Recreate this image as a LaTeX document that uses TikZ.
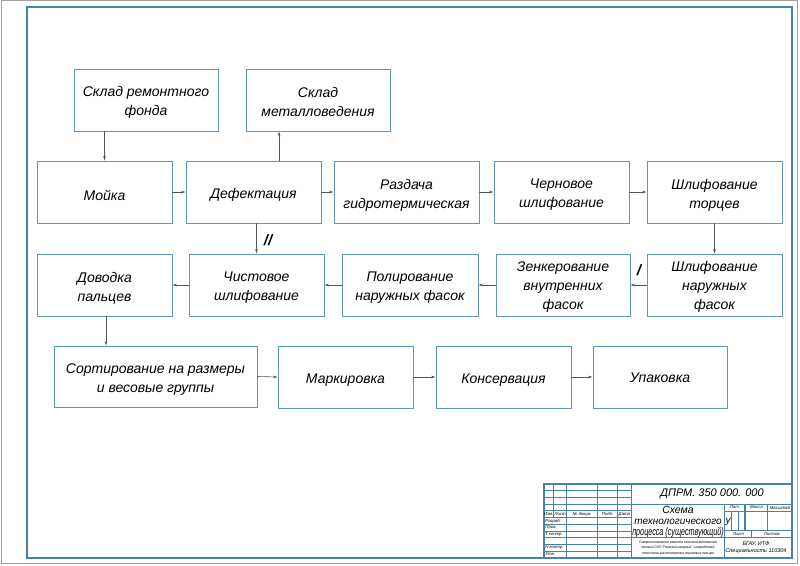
\documentclass[tikz,border=0pt]{standalone}
\usepackage{fontspec}
\setmainfont{Liberation Sans}
\usepackage{graphicx}
\usetikzlibrary{arrows.meta,calc}
\definecolor{frameblue}{RGB}{70,130,170}
\definecolor{boxblue}{RGB}{95,150,190}
\definecolor{arrgray}{RGB}{85,85,85}
\begin{document}
\begin{tikzpicture}[x=1pt,y=-1pt,
  blk/.style={draw=boxblue, line width=0.9pt, inner sep=0pt, minimum height=62pt},
  txt/.style={align=center, inner sep=0pt, yshift=-3pt,
    font=\fontsize{14}{19}\selectfont\itshape},
  arr/.style={draw=arrgray, line width=0.6pt, -{Stealth[length=4.5pt,width=2.6pt]}},
  tb/.style={draw=frameblue, line width=0.6pt},
  tbk/.style={draw=frameblue, line width=1.1pt},
  tiny/.style={font=\fontsize{4.3}{5}\selectfont\itshape, inner sep=0pt},
  slashmark/.style={font=\fontsize{15}{15}\selectfont\bfseries\itshape, inner sep=0pt}
]
\useasboundingbox (0,0) rectangle (800,565);
% page border and frame
\draw[gray!75, line width=1.3pt] (1.8,0.8) rectangle (797.3,563.2);
\draw[frameblue, line width=1.5pt] (27,7) rectangle (792,558);

% boxes
\node[blk, minimum width=144pt, label={[txt, yshift=1pt]center:{Склад ремонтного\\фонда}}] (s1) at (146,100) {};
\node[blk, minimum width=144pt, label={[txt, yshift=1pt]center:{Склад\\металловедения}}] (s2) at (318,100) {};
\node[blk, minimum width=135pt, label={[txt]center:{Мойка}}] (moi) at (104.5,192) {};
\node[blk, minimum width=135pt, label={[txt]center:{Дефектация}}] (def) at (253.5,192) {};
\node[blk, minimum width=145pt, label={[txt]center:{Раздача\\гидротермическая}}] (raz) at (406.5,192) {};
\node[blk, minimum width=135pt, label={[txt]center:{Черновое\\шлифование}}] (che) at (561.5,192) {};
\node[blk, minimum width=135pt, label={[txt]center:{Шлифование\\торцев}}] (tor) at (714.5,192) {};
\node[blk, minimum width=135pt, label={[txt, yshift=1pt]center:{Шлифование\\наружных\\фасок}}] (nar) at (714.5,285) {};
\node[blk, minimum width=134pt, label={[txt, yshift=1pt]center:{Зенкерование\\внутренних\\фасок}}] (zen) at (563,285) {};
\node[blk, minimum width=136pt, label={[txt]center:{Полирование\\наружных фасок}}] (pol) at (410,285) {};
\node[blk, minimum width=135pt, label={[txt]center:{Чистовое\\шлифование}}] (chi) at (256.5,285) {};
\node[blk, minimum width=135pt, label={[txt]center:{Доводка\\пальцев}}] (dov) at (104.5,285) {};
\node[blk, minimum width=203pt, minimum height=61pt, label={[txt]center:{Сортирование на размеры\\и весовые группы}}] (sor) at (155.5,376.5) {};
\node[blk, minimum width=135pt, label={[txt]center:{Маркировка}}] (mar) at (345.5,377) {};
\node[blk, minimum width=135pt, label={[txt]center:{Консервация}}] (kon) at (503.5,377) {};
\node[blk, minimum width=134pt, label={[txt, yshift=2pt]center:{Упаковка}}] (upa) at (660,377) {};

% connectors
\draw[arr] (s1.south -| moi.north) -- (moi.north);
\draw[arr] (moi.east) -- (def.west);
\coordinate (d1) at ([xshift=25.5pt]def.north);
\draw[arr] (d1) -- (d1 |- s2.south);
\draw[arr] (def.east) -- (raz.west);
\draw[arr] (raz.east) -- (che.west);
\draw[arr] (che.east) -- (tor.west);
\draw[arr] (tor.south) -- (nar.north);
\draw[arr] (nar.west) -- (zen.east);
\draw[arr] (zen.west) -- (pol.east);
\draw[arr] (pol.west) -- (chi.east);
\draw[arr] (chi.west) -- (dov.east);
\coordinate (d2) at ([xshift=3pt]def.south);
\draw[arr] (d2) -- (d2 |- chi.north);
\coordinate (d3) at ([xshift=1.5pt]dov.south);
\draw[arr] (d3) -- (d3 |- sor.north);
\draw[arr] (sor.east) -- (mar.west);
\draw[arr] (mar.east) -- (kon.west);
\draw[arr] (kon.east) -- (upa.west);

\node[slashmark] (m2) at (268,240) {//};
\node[slashmark] (m1) at (639,270) {/};

% title block
\draw[tbk] (544,484) rectangle (792,558);
\draw[tbk] (553.4,484) -- (553.4,517.5);
\foreach \xx in {566.8,597.6,617.7,631.1} \draw[tbk] (\xx,484) -- (\xx,558);
\foreach \yy in {490.7,497.4,504.1,524.2,530.9,537.6,544.3,551.0} \draw[tb] (544,\yy) -- (631.1,\yy);
\draw[tbk] (544,510.8) -- (631.1,510.8);
\draw[tbk] (544,517.5) -- (631.1,517.5);
\draw[tbk] (631.1,504.1) -- (792,504.1);
\draw[tbk] (724.9,504.1) -- (724.9,558);
\draw[tbk] (631.1,537.6) -- (792,537.6);
\draw[tb] (724.9,510.8) -- (792,510.8);
\draw[tbk] (745,504.1) -- (745,530.9);
\draw[tbk] (767.8,504.1) -- (767.8,530.9);
\draw[tb] (731.6,510.8) -- (731.6,530.9);
\draw[tb] (738.3,510.8) -- (738.3,530.9);
\draw[tbk] (724.9,530.9) -- (792,530.9);
\draw[tb] (751.7,530.9) -- (751.7,537.6);

% title block texts
\node[font=\fontsize{11}{11}\selectfont\itshape, inner sep=0pt] (des) at (712,494) {ДПРМ. 350 000. 000};
\node[font=\fontsize{10.5}{10}\selectfont\itshape, inner sep=0pt] (n1) at (678,510) {Схема};
\node[font=\fontsize{10}{10}\selectfont\itshape, inner sep=0pt] (n2) at (678,522) {технологического};
\node[font=\fontsize{10}{10}\selectfont\itshape, inner sep=0pt] (n3) at (678,533) {\scalebox{0.72}[1.1]{процесса (существующий)}};
\node[font=\fontsize{10}{10}\selectfont\itshape, inner sep=0pt] (lit) at (728.2,522) {у};
\node[tiny] (h1) at (735,507.5) {Лит.};
\node[tiny] (h2) at (756.4,507.5) {Масса};
\node[tiny] (h3) at (779.9,507.5) {Масштаб};
\node[tiny] (h4) at (738.3,534.3) {Лист};
\node[tiny] (h5) at (771.8,534.3) {Листов};
\node[font=\fontsize{5.5}{6}\selectfont\itshape, inner sep=0pt] (o1) at (756,543.5) {БГАУ, ИТФ};
\node[font=\fontsize{5.5}{6}\selectfont\itshape, inner sep=0pt] (o2) at (756,551.5) {Специальность 110304};
\node[tiny] (l1) at (548.7,514.2) {Изм.};
\node[tiny] (l2) at (560.1,514.2) {Лист};
\node[tiny] (l3) at (582.2,514.2) {№ докум.};
\node[tiny] (l4) at (607.6,514.2) {Подп.};
\node[tiny] (l5) at (624.4,514.2) {Дата};
\node[tiny, anchor=west] (r1) at (545.2,520.9) {Разраб.};
\node[tiny, anchor=west] (r2) at (545.2,527.6) {Пров.};
\node[tiny, anchor=west] (r3) at (545.2,534.3) {Т.контр.};
\node[tiny, anchor=west] (r4) at (545.2,547.7) {Н.контр.};
\node[tiny, anchor=west] (r5) at (545.2,554.4) {Утв.};
\node[font=\fontsize{3.6}{5.3}\selectfont\itshape, inner sep=0pt, align=center] (mat) at (678,547.8)
  {\scalebox{0.85}[1]{Совершенствование ремонта сельскохозяйственной}\\
   \scalebox{0.85}[1]{техники ООО "Раевский сахарный" с разработкой}\\
   \scalebox{0.85}[1]{технологии восстановления поршневых пальцев}};
\end{tikzpicture}
\end{document}
